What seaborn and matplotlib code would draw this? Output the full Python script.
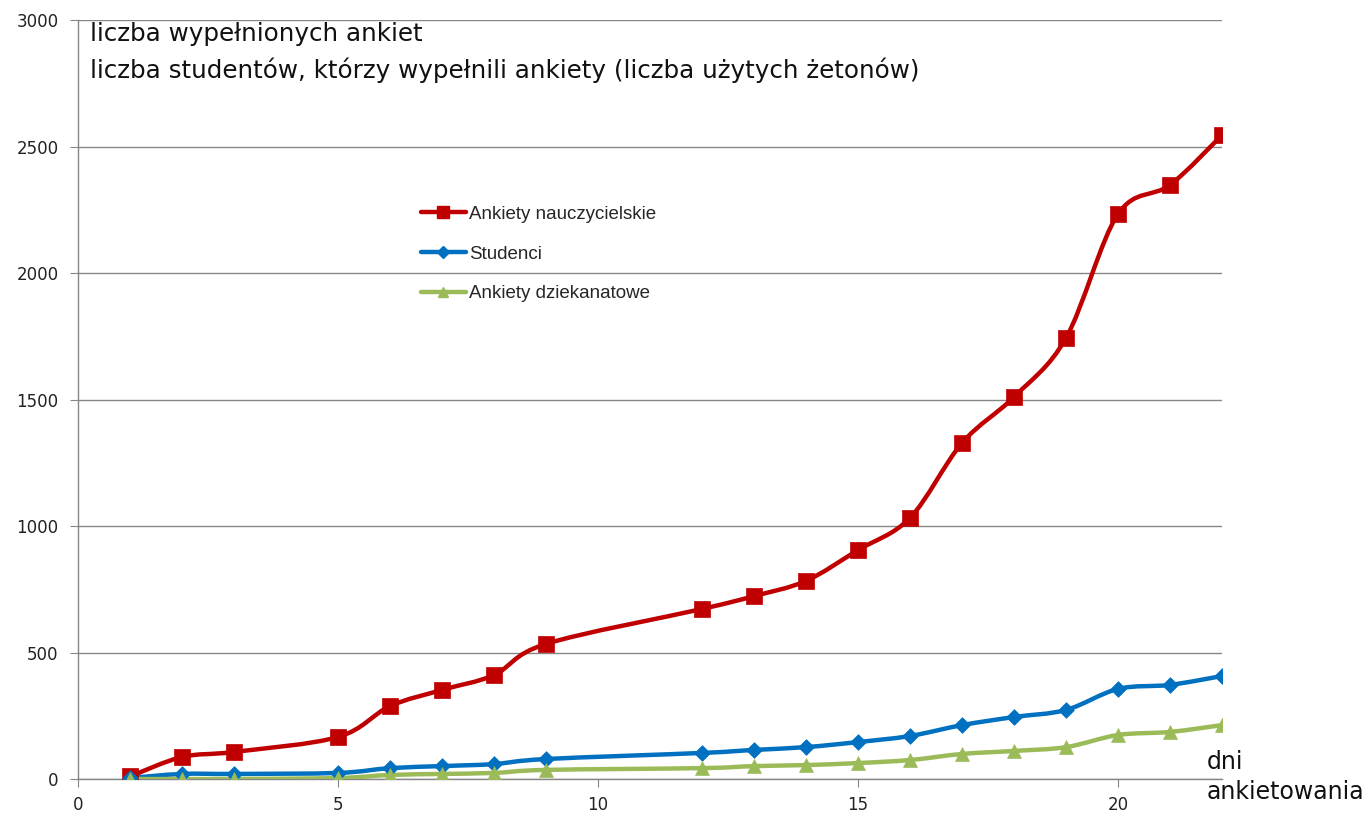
import numpy as np
import matplotlib
matplotlib.use("Agg")
import matplotlib.pyplot as plt
from matplotlib.path import Path
from matplotlib.patches import PathPatch
from matplotlib.lines import Line2D
import seaborn as sns

# dni ankietowania (brak danych dla dni 4, 10, 11)
dni = [1, 2, 3, 5, 6, 7, 8, 9, 12, 13, 14, 15, 16, 17, 18, 19, 20, 21, 22]

ankiety_naucz = [10, 87, 107, 166, 288, 352, 411, 534, 672, 723, 783, 905,
                 1032, 1328, 1510, 1743, 2233, 2348, 2545]
studenci = [4, 20, 20, 24, 43, 51, 59, 79, 103, 115, 126, 146,
            170, 213, 245, 273, 356, 372, 407]
ankiety_dziek = [0, 0, 0, 4, 16, 20, 24, 36, 43, 51, 55, 63,
                 75, 99, 111, 126, 174, 186, 213]

series_names = ["Ankiety nauczycielskie", "Studenci", "Ankiety dziekanatowe"]
series_vals = [ankiety_naucz, studenci, ankiety_dziek]
colors = ["#C00000", "#0070C0", "#9BBB59"]
markers = ["s", "D", "^"]
msizes = [11, 8, 10]

sns.set_style("white")
plt.rcParams["font.family"] = ["DejaVu Sans"]

fig = plt.figure(figsize=(13.72, 8.13), dpi=100)
ax = fig.add_axes([78 / 1372, 1 - 779 / 813, (1222 - 78) / 1372, (779 - 20) / 813])


def smooth_path(x, y):
    # bezier jak w excelu (wygladzona linia)
    pts = np.column_stack([x, y]).astype(float)
    n = len(pts)
    verts = [pts[0]]
    codes = [Path.MOVETO]
    for i in range(n - 1):
        p0 = pts[i - 1] if i > 0 else pts[i]
        p1 = pts[i]
        p2 = pts[i + 1]
        p3 = pts[i + 2] if i + 2 < n else pts[i + 1]
        c1 = p1 + (p2 - p0) / 6
        c2 = p2 - (p3 - p1) / 6
        verts += [c1, c2, p2]
        codes += [Path.CURVE4] * 3
    return Path(verts, codes)


handles = []
for name, vals, c, m, ms in zip(series_names, series_vals, colors, markers, msizes):
    patch = PathPatch(smooth_path(dni, vals), facecolor="none", edgecolor=c,
                      lw=3.2, capstyle="round", joinstyle="round", zorder=3)
    ax.add_patch(patch)
    sns.scatterplot(x=dni, y=vals, marker=m, s=ms ** 2, color=c,
                    edgecolor=c, linewidth=0.5, ax=ax, zorder=4)
    handles.append(Line2D([0], [0], color=c, lw=3.2, marker=m, markersize=ms * 0.75))

ax.set_xlim(0, 22)
ax.set_ylim(0, 3000)
ax.set_xticks([0, 5, 10, 15, 20])
ax.set_yticks(np.arange(0, 3001, 500))
ax.yaxis.grid(True, color="#868686", lw=1)
ax.xaxis.grid(False)
for s in ["top", "right"]:
    ax.spines[s].set_visible(False)
for s in ["left", "bottom"]:
    ax.spines[s].set_color("#868686")
    ax.spines[s].set_linewidth(1)
ax.tick_params(axis="both", which="both", direction="out", length=6,
               color="#868686", labelsize=12, labelcolor="#222222")
ax.tick_params(axis="y", pad=8, left=True)
ax.tick_params(axis="x", pad=6, bottom=True)
ax.set_xlabel("")
ax.set_ylabel("")

fig.text(90 / 1372, 1 - 34 / 813, "liczba wypełnionych ankiet", fontsize=17.7,
         va="center", ha="left", color="#111111")
fig.text(90 / 1372, 1 - 70 / 813,
         "liczba studentów, którzy wypełnili ankiety (liczba użytych żetonów)",
         fontsize=17.7, va="center", ha="left", color="#111111")
fig.text(1207 / 1372, 1 - 777 / 813, "dni\nankietowania", fontsize=17,
         va="center", ha="left", color="#111111", linespacing=1.3)

leg = ax.legend(handles, series_names, loc="upper left",
                bbox_to_anchor=(404 / 1372, 1 - 189 / 813),
                bbox_transform=fig.transFigure, frameon=False,
                prop={"family": "Liberation Sans", "size": 13.5},
                handlelength=2.4, handletextpad=0.15, labelspacing=1.2,
                numpoints=1)

fig.savefig("out.png", dpi=100)
